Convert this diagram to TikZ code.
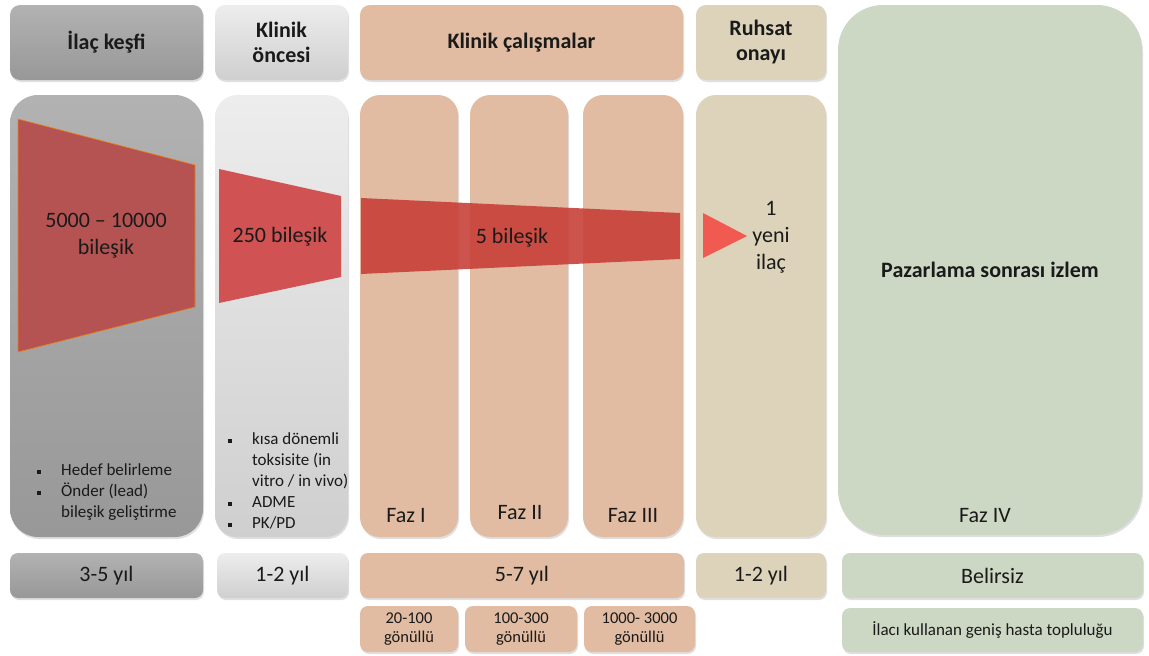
\documentclass[tikz,border=0pt]{standalone}
\usepackage{fontspec}
\setmainfont{Carlito}
\usetikzlibrary{positioning,shadows,calc}

\definecolor{discgray}{HTML}{A6A6A6}
\definecolor{discgraytop}{HTML}{B2B2B2}
\definecolor{discgraybot}{HTML}{989898}
\definecolor{pretop}{HTML}{EDEDED}
\definecolor{prebot}{HTML}{CFCFCF}
\definecolor{clinpeach}{HTML}{E1BCA2}
\definecolor{apprtan}{HTML}{DCD3BA}
\definecolor{postgreen}{HTML}{CDD8C4}
\definecolor{redone}{HTML}{B55352}
\definecolor{redtwo}{HTML}{D05252}
\definecolor{redthree}{HTML}{C63C34}
\definecolor{redfour}{HTML}{F05A50}
\definecolor{txt}{HTML}{1A1A1A}

\newcommand{\sqbul}{\rule[0.25ex]{4pt}{4pt}}

\tikzset{
  panel/.style={draw=none, inner sep=0pt, rounded corners=#1,
    drop shadow={opacity=0.25, shadow xshift=1pt, shadow yshift=-2pt}},
  graybox/.style={panel=#1, top color=discgraytop, bottom color=discgraybot},
  lightbox/.style={panel=#1, top color=pretop, bottom color=prebot},
  peachbox/.style={panel=#1, fill=clinpeach},
  tanbox/.style={panel=#1, fill=apprtan},
  greenbox/.style={panel=#1, fill=postgreen},
  head/.style={font=\fontsize{22}{25}\selectfont\bfseries, text=txt, align=center},
  big/.style={font=\fontsize{22}{27}\selectfont, text=txt, align=center},
  phase/.style={font=\fontsize{22}{26}\selectfont, text=txt},
  small/.style={font=\fontsize{16.5}{19}\selectfont, text=txt, align=center},
  bul/.style={font=\fontsize{17}{21}\selectfont, text=txt, align=left, inner sep=0pt},
}

\begin{document}
\begin{tikzpicture}[x=1pt,y=-1pt]
\useasboundingbox (0,0) rectangle (1149,656);

% top row
\node[graybox=10pt, minimum width=193, minimum height=75] (hdisc) at (106.5,42.5) {};
\node[lightbox=10pt, minimum width=133, minimum height=75] (hpre) at (281.5,42.5) {};
\node[peachbox=10pt, minimum width=323, minimum height=75] (hclin) at (521.5,42.5) {};
\node[tanbox=10pt, minimum width=130, minimum height=75] (happr) at (761,42.5) {};
\node[greenbox=45pt, minimum width=304, minimum height=530] (cpost) at (990,270) {};

% columns
\node[graybox=28pt, minimum width=193, minimum height=442] (cdisc) at (106.5,316) {};
\node[lightbox=22pt, minimum width=133, minimum height=442] (cpre) at (281.5,316) {};
\node[peachbox=20pt, minimum width=98, minimum height=442] (cph1) at (409,316) {};
\node[peachbox=20pt, minimum width=98, minimum height=442] (cph2) at (519,316) {};
\node[peachbox=20pt, minimum width=100, minimum height=442] (cph3) at (633,316) {};
\node[tanbox=20pt, minimum width=130, minimum height=442] (cappr) at (761,316) {};

% durations
\node[graybox=8pt, minimum width=193, minimum height=45] (ydisc) at (106.5,575.5) {};
\node[lightbox=8pt, minimum width=131, minimum height=45] (ypre) at (282.5,575.5) {};
\node[peachbox=8pt, minimum width=324, minimum height=45] (yclin) at (522,575.5) {};
\node[tanbox=8pt, minimum width=130, minimum height=45] (yappr) at (761,575.5) {};
\node[greenbox=8pt, minimum width=301, minimum height=45] (ypost) at (992.5,575.5) {};

% volunteers
\node[peachbox=8pt, minimum width=98, minimum height=46] (vph1) at (409,629) {};
\node[peachbox=8pt, minimum width=112, minimum height=46] (vph2) at (521,629) {};
\node[peachbox=8pt, minimum width=111, minimum height=46] (vph3) at (639.5,629) {};
\node[greenbox=8pt, minimum width=301, minimum height=44] (vpost) at (992.5,630) {};

% funnel
\fill[redone, draw=orange!70!brown, line width=0.6pt] (18,119) -- (195,165) -- (195,307) -- (18,352) -- cycle;
\fill[redtwo] (219,169) -- (341,196) -- (341,277) -- (219,303) -- cycle;
\fill[redthree, fill opacity=0.88] (361,198) -- (680,213) -- (680,259) -- (361,274) -- cycle;
\fill[redfour] (703,213) -- (747,236) -- (703,258) -- cycle;

% labels
\node[head] (thdisc) at (hdisc) {İlaç keşfi};
\node[head] (thpre) at (hpre) {Klinik\\öncesi};
\node[head] (thclin) at (hclin) {Klinik çalışmalar};
\node[head] (thappr) at (happr) {Ruhsat\\onayı};
\node[head] (tpost) at (990,270) {Pazarlama sonrası izlem};

\node[big] (ndisc) at (106,236) {5000 – 10000\\bileşik};
\node[big] (npre) at (280,237) {250 bileşik};
\node[big] (nclin) at (512,238) {5 bileşik};
\node[big] (nappr) at (771,237) {1\\yeni\\ilaç};

\node[bul, anchor=north west] (bdisc) at (37,461) {%
  \begin{tabular}{@{}l@{\hspace{20pt}}l@{}}
  \sqbul & Hedef belirleme\\
  \sqbul & Önder (lead)\\
         & bileşik geliştirme
  \end{tabular}};
\node[bul, anchor=north west] (bpre) at (228,430) {%
  \begin{tabular}{@{}l@{\hspace{20pt}}l@{}}
  \sqbul & kısa dönemli\\
         & toksisite (in\\
         & vitro / in vivo)\\
  \sqbul & ADME\\
  \sqbul & PK/PD
  \end{tabular}};

\node[phase] (fph1) at (406,516) {Faz I};
\node[phase] (fph2) at (520,513) {Faz II};
\node[phase] (fph3) at (633,516) {Faz III};
\node[phase] (fpost) at (985,516) {Faz IV};

\node[big] (tydisc) at (ydisc) {3-5 yıl};
\node[big] (typre) at (ypre) {1-2 yıl};
\node[big] (tyclin) at (yclin) {5-7 yıl};
\node[big] (tyappr) at (yappr) {1-2 yıl};
\node[big] (typost) at (ypost) {Belirsiz};

\node[small] (tvph1) at (vph1) {20-100\\gönüllü};
\node[small] (tvph2) at (vph2) {100-300\\gönüllü};
\node[small] (tvph3) at (vph3) {1000- 3000\\gönüllü};
\node[small, font=\fontsize{17}{19}\selectfont] (tvpost) at (vpost) {İlacı kullanan geniş hasta topluluğu};
\end{tikzpicture}
\end{document}
